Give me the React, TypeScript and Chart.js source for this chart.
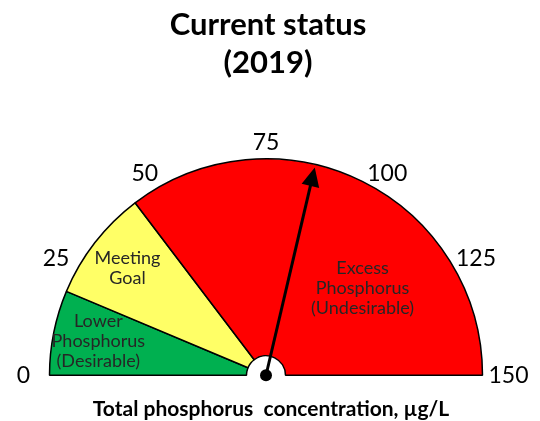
import React, { useEffect, useRef } from "react";
import { Chart, registerables } from "chart.js";

Chart.register(...registerables);

// ---- data ----
const titleLines = ["Current status", "(2019)"];
const axisTitle = "Total phosphorus  concentration, µg/L";
const segmentNames = [
  ["Lower", "Phosphorus", "(Desirable)"],
  ["Meeting", "Goal"],
  ["Excess", "Phosphorus", "(Undesirable)"],
];
const segmentBreaks = [0, 19, 44, 150];
const tickValues = [0, 25, 50, 75, 100, 125, 150];
const tickLabels = ["0", "25", "50", "75", "100", "125", "150"];
const currentValue = 86;
const scaleMin = 0;
const scaleMax = 150;

const segmentColors = ["#00b050", "#ffff66", "#ff0000"];
const FONT = "Lato, 'Open Sans', sans-serif";

const gaugePlugin = {
  id: "gaugeOverlay",
  afterDatasetsDraw(chart: any) {
    const arc = chart.getDatasetMeta(0).data[0];
    if (!arc) return;
    const { x: cx, y: cy, outerRadius: R } = arc.getProps(["x", "y", "outerRadius"], true);
    const ctx: CanvasRenderingContext2D = chart.ctx;
    const ang = (v: number) => Math.PI + ((v - scaleMin) / (scaleMax - scaleMin)) * Math.PI;

    ctx.save();
    // tick labels
    ctx.fillStyle = "#000";
    ctx.textAlign = "center";
    ctx.textBaseline = "middle";
    ctx.font = `23px ${FONT}`;
    tickValues.forEach((v, i) => {
      const a = ang(v);
      ctx.fillText(tickLabels[i], cx + (R + 26) * Math.cos(a), cy + (R + 16) * Math.sin(a));
    });

    // segment labels
    const anchors = [
      { f: 0.5, r: 0.79 },
      { f: 0.5, r: 0.81 },
      { f: 0.67, r: 0.6 },
    ];
    ctx.font = `18px ${FONT}`;
    ctx.fillStyle = "#262626";
    segmentNames.forEach((lines, i) => {
      const lo = segmentBreaks[i];
      const hi = segmentBreaks[i + 1];
      const v = lo + (hi - lo) * anchors[i].f;
      const a = ang(v);
      const r = R * anchors[i].r;
      const x = cx + r * Math.cos(a);
      const y = cy + r * Math.sin(a);
      const lh = 20;
      lines.forEach((t, j) => {
        ctx.fillText(t, x, y + (j - (lines.length - 1) / 2) * lh);
      });
    });

    // needle
    const a = ang(currentValue);
    const L = R - 3;
    const headLen = 19;
    const headHalf = 9;
    const ux = Math.cos(a);
    const uy = Math.sin(a);
    const tipX = cx + L * ux;
    const tipY = cy + L * uy;
    const bx = cx + (L - headLen) * ux;
    const by = cy + (L - headLen) * uy;
    ctx.strokeStyle = "#000";
    ctx.lineWidth = 3;
    ctx.beginPath();
    ctx.moveTo(cx, cy);
    ctx.lineTo(bx + ux * 2, by + uy * 2);
    ctx.stroke();
    ctx.fillStyle = "#000";
    ctx.beginPath();
    ctx.moveTo(tipX, tipY);
    ctx.lineTo(bx - uy * headHalf, by + ux * headHalf);
    ctx.lineTo(bx + uy * headHalf, by - ux * headHalf);
    ctx.closePath();
    ctx.fill();
    ctx.beginPath();
    ctx.arc(cx, cy, 6, 0, Math.PI * 2);
    ctx.fill();

    // titles
    ctx.fillStyle = "#000";
    ctx.font = `bold 31px ${FONT}`;
    ctx.fillText(titleLines[0], 268, 25);
    ctx.fillText(titleLines[1], 268, 63);
    ctx.font = `bold 21px ${FONT}`;
    ctx.fillText(axisTitle, 271, 409);
    ctx.restore();
  },
};

export default function App() {
  const ref = useRef<HTMLCanvasElement | null>(null);
  useEffect(() => {
    document.body.style.margin = "0";
    const canvas = ref.current;
    if (!canvas) return;
    const values = segmentBreaks.slice(1).map((b, i) => b - segmentBreaks[i]);
    const chart = new Chart(canvas, {
      type: "doughnut",
      data: {
        labels: segmentNames.map((l) => l.join(" ")),
        datasets: [
          {
            data: values,
            backgroundColor: segmentColors,
            borderColor: "#000",
            borderWidth: 1.5,
          },
        ],
      },
      options: {
        responsive: false,
        animation: false,
        devicePixelRatio: 1,
        rotation: -90,
        circumference: 180,
        cutout: "9%",
        layout: { padding: { left: 48, right: 56, top: 158, bottom: 45 } },
        plugins: {
          legend: { display: false },
          tooltip: { enabled: false },
          title: { display: false },
        },
      } as any,
      plugins: [gaugePlugin],
    });
    return () => chart.destroy();
  }, []);
  return (
    <div style={{ width: 540, height: 421 }}>
      <canvas ref={ref} width={540} height={421} />
    </div>
  );
}
